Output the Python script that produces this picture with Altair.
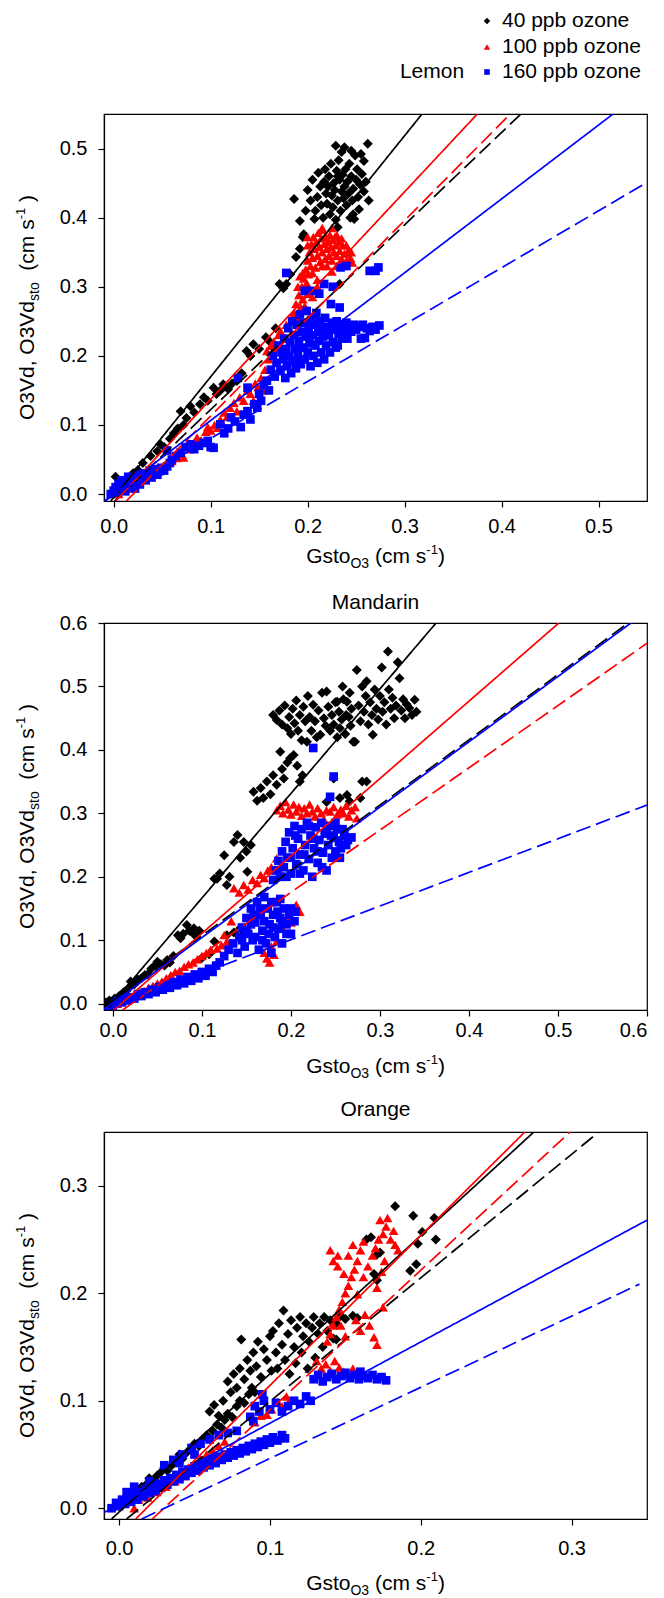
import altair as alt
import pandas as pd

FONT = "Liberation Sans"
SERIES = ["40 ppb ozone", "100 ppb ozone", "160 ppb ozone"]
COLORS = ["#000000", "#ff0000", "#0000ff"]
SHAPES = ["diamond", "triangle-up", "square"]
SIZES = [100, 95, 75]

# ---------------- Lemon ----------------
lemon_40 = [(0.002,0.025),(0.005,0.012),(0.010,0.018),(0.015,0.022),(0.020,0.030),(0.025,0.035),
 (0.030,0.045),(0.038,0.055),(0.045,0.062),(0.048,0.072),(0.052,0.068),(0.058,0.080),(0.062,0.088),
 (0.066,0.095),(0.069,0.120),(0.072,0.100),(0.075,0.110),(0.079,0.127),(0.083,0.118),(0.089,0.130),
 (0.093,0.140),(0.097,0.135),(0.103,0.154),(0.106,0.145),(0.110,0.150),(0.113,0.159),(0.118,0.152),
 (0.122,0.160),(0.127,0.164),(0.132,0.175),(0.137,0.207),(0.141,0.200),(0.144,0.217),(0.150,0.210),
 (0.157,0.227),(0.160,0.222),(0.164,0.212),(0.167,0.240),(0.171,0.304),(0.175,0.298),(0.178,0.304),
 (0.182,0.318),(0.188,0.343),(0.192,0.355),(0.195,0.372),(0.204,0.255),(0.233,0.304),
 (0.186,0.427),(0.192,0.395),(0.196,0.376),(0.198,0.410),(0.200,0.440),(0.203,0.425),(0.205,0.455),
 (0.207,0.398),(0.208,0.410),(0.210,0.430),(0.211,0.465),(0.213,0.445),(0.214,0.418),(0.216,0.400),
 (0.217,0.452),(0.218,0.470),(0.219,0.435),(0.220,0.420),(0.221,0.445),(0.222,0.460),(0.223,0.405),
 (0.224,0.478),(0.225,0.432),(0.226,0.415),(0.227,0.450),(0.228,0.440),(0.229,0.504),(0.230,0.468),
 (0.231,0.386),(0.231,0.425),(0.232,0.483),(0.233,0.455),(0.234,0.410),(0.235,0.438),(0.236,0.462),
 (0.237,0.428),(0.238,0.502),(0.238,0.445),(0.239,0.470),(0.240,0.418),(0.241,0.452),(0.242,0.435),
 (0.243,0.478),(0.244,0.400),(0.245,0.460),(0.246,0.425),(0.247,0.442),(0.248,0.398),(0.249,0.490),
 (0.250,0.455),(0.251,0.470),(0.252,0.430),(0.253,0.412),(0.254,0.448),(0.255,0.492),(0.256,0.463),
 (0.258,0.438),(0.260,0.452),(0.262,0.507),(0.263,0.425),(0.258,0.482),(0.245,0.497),(0.235,0.495),
 (0.231,0.460),(0.247,0.405),(0.229,0.397)]

lemon_100 = [(0.005,0.000),(0.010,0.005),(0.015,0.008),(0.020,0.012),(0.025,0.018),(0.030,0.022),
 (0.035,0.026),(0.040,0.030),(0.045,0.034),(0.050,0.038),(0.055,0.042),(0.060,0.048),(0.065,0.052),
 (0.070,0.058),(0.072,0.053),(0.078,0.065),(0.083,0.075),(0.086,0.082),(0.090,0.078),(0.095,0.090),
 (0.097,0.097),(0.100,0.092),(0.104,0.100),(0.107,0.096),(0.110,0.108),(0.114,0.118),(0.117,0.112),
 (0.120,0.125),(0.124,0.132),(0.127,0.120),(0.130,0.140),(0.134,0.135),(0.138,0.150),(0.141,0.145),
 (0.144,0.135),(0.146,0.160),(0.149,0.155),(0.152,0.168),(0.154,0.150),(0.156,0.180),(0.158,0.207),
 (0.160,0.195),(0.162,0.215),(0.165,0.221),(0.168,0.212),(0.170,0.230),(0.172,0.236),(0.175,0.225),
 (0.178,0.245),(0.183,0.250),(0.186,0.262),(0.188,0.275),(0.190,0.255),(0.191,0.288),(0.193,0.270),
 (0.194,0.300),(0.195,0.282),(0.196,0.312),(0.197,0.295),(0.198,0.325),(0.199,0.305),(0.200,0.338),
 (0.201,0.318),(0.202,0.350),(0.203,0.330),(0.204,0.362),(0.205,0.342),(0.206,0.372),(0.207,0.355),
 (0.208,0.328),(0.209,0.365),(0.210,0.345),(0.211,0.378),(0.212,0.358),(0.213,0.336),(0.214,0.370),
 (0.215,0.350),(0.216,0.382),(0.217,0.362),(0.218,0.340),(0.219,0.372),(0.220,0.355),(0.221,0.365),
 (0.222,0.345),(0.223,0.375),(0.224,0.358),(0.225,0.338),(0.226,0.368),(0.227,0.350),(0.228,0.372),
 (0.229,0.360),(0.230,0.345),(0.232,0.365),(0.233,0.352),(0.235,0.340),(0.236,0.360),(0.238,0.348),
 (0.240,0.338),(0.242,0.352),(0.244,0.342),(0.246,0.335),
 (0.195,0.320),(0.200,0.360),(0.205,0.320),(0.210,0.310),(0.215,0.330),(0.220,0.330),(0.225,0.322),
 (0.230,0.330),(0.235,0.370),(0.240,0.360),(0.245,0.350),(0.190,0.300),(0.200,0.290),(0.205,0.285),
 (0.210,0.300),(0.200,0.372),(0.215,0.385),(0.225,0.385),(0.230,0.375),(0.192,0.315),(0.197,0.272)]

lemon_160 = [(-0.003,0.000),(0.000,0.005),(0.002,0.010),(0.004,0.002),(0.005,0.015),(0.007,0.008),
 (0.008,0.020),(0.010,0.012),(0.012,0.004),(0.013,0.018),(0.015,0.025),(0.016,0.010),(0.018,0.015),
 (0.020,0.022),(0.022,0.008),(0.024,0.018),(0.025,0.028),(0.027,0.014),(0.029,0.022),(0.031,0.030),
 (0.033,0.020),(0.035,0.026),(0.037,0.034),(0.039,0.024),(0.041,0.030),(0.043,0.036),(0.045,0.028),
 (0.047,0.033),(0.049,0.038),(0.052,0.034),(0.055,0.040),(0.058,0.045),(0.055,0.063),(0.060,0.050),
 (0.064,0.055),(0.069,0.060),(0.074,0.068),(0.079,0.072),(0.083,0.065),(0.088,0.070),(0.093,0.074),
 (0.097,0.077),(0.100,0.068),(0.103,0.067),
 (0.110,0.101),(0.114,0.088),(0.118,0.095),(0.121,0.111),(0.125,0.105),(0.128,0.168),(0.131,0.097),
 (0.134,0.115),(0.138,0.120),(0.138,0.154),(0.141,0.108),(0.145,0.130),(0.148,0.125),(0.150,0.145),
 (0.152,0.135),(0.155,0.158),(0.158,0.164),(0.160,0.150),
 (0.162,0.180),(0.164,0.200),(0.166,0.170),(0.168,0.190),(0.170,0.215),(0.172,0.178),(0.173,0.205),
 (0.175,0.195),(0.176,0.225),(0.177,0.168),(0.178,0.210),(0.179,0.185),(0.180,0.240),(0.181,0.200),
 (0.182,0.220),(0.183,0.175),(0.184,0.250),(0.185,0.192),(0.186,0.230),(0.187,0.210),(0.188,0.182),
 (0.189,0.245),(0.190,0.200),(0.191,0.222),(0.192,0.260),(0.193,0.188),(0.194,0.235),(0.195,0.212),
 (0.196,0.248),(0.197,0.195),(0.198,0.228),(0.199,0.265),(0.200,0.205),(0.201,0.240),(0.202,0.218),
 (0.203,0.185),(0.204,0.252),(0.205,0.230),(0.206,0.200),(0.207,0.245),(0.208,0.215),(0.209,0.262),
 (0.210,0.190),(0.211,0.235),(0.212,0.222),(0.213,0.250),(0.214,0.205),(0.215,0.240),(0.216,0.228),
 (0.217,0.195),(0.218,0.255),(0.219,0.215),(0.220,0.242),(0.222,0.230),(0.223,0.205),(0.224,0.275),
 (0.225,0.248),(0.226,0.220),(0.228,0.238),(0.229,0.212),(0.230,0.250),(0.231,0.215),(0.232,0.232),
 (0.233,0.270),(0.234,0.245),(0.235,0.225),(0.236,0.240),(0.238,0.232),(0.240,0.248),(0.241,0.225),
 (0.243,0.240),(0.245,0.235),(0.248,0.245),(0.250,0.238),(0.253,0.242),(0.255,0.225),(0.257,0.245),
 (0.259,0.226),(0.261,0.240),(0.264,0.236),(0.267,0.242),(0.270,0.238),(0.274,0.244),
 (0.178,0.320),(0.197,0.294),(0.204,0.294),(0.217,0.304),(0.234,0.328),(0.240,0.330),(0.264,0.323),
 (0.270,0.323),(0.273,0.328),(0.212,0.290),(0.226,0.300)]

# line end points: (series, kind, x0, y0, x1, y1)
lemon_lines = [("40 ppb ozone","solid",-0.003,-0.010,0.318,0.55),
 ("40 ppb ozone","dashed",0.001,-0.010,0.420,0.55),
 ("100 ppb ozone","solid",0.002,-0.010,0.375,0.55),
 ("100 ppb ozone","dashed",0.013,-0.010,0.409,0.55),
 ("160 ppb ozone","solid",-0.009,-0.010,0.515,0.55),
 ("160 ppb ozone","dashed",-0.010,-0.010,0.55,0.451)]

# ---------------- Mandarin ----------------
mandarin_40 = [(-0.008,0.002),(-0.004,0.005),(0.000,0.000),(0.002,0.008),(0.005,0.004),(0.007,0.012),
 (0.010,0.010),(0.012,0.018),(0.015,0.020),(0.018,0.025),(0.020,0.035),(0.024,0.030),(0.028,0.038),
 (0.032,0.040),(0.036,0.045),(0.039,0.046),(0.043,0.055),(0.047,0.060),(0.050,0.066),(0.054,0.062),
 (0.058,0.060),(0.061,0.069),(0.064,0.065),(0.068,0.075),(0.073,0.108),(0.076,0.103),(0.079,0.110),
 (0.083,0.124),(0.086,0.115),(0.089,0.112),(0.091,0.119),(0.094,0.105),(0.097,0.115),
 (0.100,0.072),(0.108,0.078),(0.114,0.098),(0.128,0.108),(0.136,0.112),(0.143,0.119),(0.147,0.110),
 (0.114,0.197),(0.117,0.197),(0.120,0.205),(0.125,0.234),(0.128,0.187),(0.131,0.200),(0.136,0.255),
 (0.140,0.266),(0.143,0.230),(0.147,0.255),(0.151,0.208),(0.155,0.250),(0.150,0.240),(0.158,0.334),
 (0.162,0.320),(0.166,0.340),(0.169,0.324),(0.173,0.350),(0.177,0.330),(0.180,0.360),(0.184,0.345),
 (0.188,0.397),(0.190,0.370),(0.192,0.355),(0.196,0.380),(0.199,0.387),(0.203,0.392),(0.207,0.375),
 (0.210,0.350),(0.213,0.360),
 (0.180,0.455),(0.184,0.447),(0.187,0.462),(0.190,0.440),(0.193,0.470),(0.196,0.434),(0.198,0.452),
 (0.200,0.425),(0.202,0.465),(0.204,0.442),(0.206,0.478),(0.208,0.430),(0.210,0.455),(0.212,0.415),
 (0.214,0.468),(0.216,0.445),(0.218,0.413),(0.219,0.485),(0.221,0.452),(0.223,0.430),(0.225,0.471),
 (0.227,0.445),(0.229,0.420),(0.231,0.462),(0.233,0.424),(0.235,0.490),(0.237,0.450),(0.239,0.438),
 (0.240,0.492),(0.242,0.468),(0.244,0.430),(0.246,0.455),(0.248,0.440),(0.250,0.475),(0.252,0.420),
 (0.254,0.460),(0.255,0.434),(0.257,0.448),(0.259,0.480),(0.261,0.425),(0.263,0.476),(0.265,0.452),
 (0.267,0.438),(0.270,0.413),(0.268,0.465),
 (0.252,0.476),(0.258,0.500),(0.262,0.455),(0.266,0.490),(0.272,0.413),(0.274,0.526),(0.276,0.470),
 (0.278,0.445),(0.280,0.500),(0.282,0.460),(0.284,0.485),(0.285,0.508),(0.287,0.440),(0.289,0.475),
 (0.291,0.455),(0.292,0.424),(0.294,0.495),(0.296,0.465),(0.298,0.448),(0.300,0.485),(0.302,0.530),
 (0.303,0.460),(0.305,0.475),(0.307,0.440),(0.309,0.555),(0.310,0.495),(0.312,0.465),(0.314,0.482),
 (0.316,0.450),(0.318,0.470),(0.320,0.538),(0.322,0.513),(0.324,0.462),(0.326,0.480),(0.328,0.450),
 (0.330,0.472),(0.333,0.466),(0.336,0.455),(0.339,0.479),(0.341,0.460),
 (0.240,0.318),(0.248,0.355),(0.255,0.324),(0.263,0.329),(0.266,0.319),(0.278,0.324),(0.280,0.350),
 (0.285,0.350)]

mandarin_100 = [(0.000,-0.005),(0.005,0.000),(0.010,0.004),(0.015,0.008),(0.020,0.010),(0.025,0.012),
 (0.030,0.018),(0.035,0.020),(0.040,0.025),(0.045,0.028),(0.050,0.032),(0.055,0.035),(0.060,0.040),
 (0.065,0.045),(0.070,0.050),(0.075,0.052),(0.080,0.058),(0.085,0.062),(0.090,0.065),(0.095,0.070),
 (0.100,0.075),(0.105,0.080),(0.110,0.085),(0.117,0.087),(0.122,0.092),(0.125,0.108),(0.128,0.098),
 (0.133,0.130),(0.136,0.182),(0.142,0.175),(0.147,0.187),(0.152,0.180),(0.157,0.195),(0.162,0.190),
 (0.166,0.203),(0.170,0.198),(0.174,0.210),(0.178,0.215),(0.184,0.229),
 (0.170,0.080),(0.173,0.071),(0.176,0.065),(0.181,0.077),(0.184,0.098),(0.178,0.090),
 (0.190,0.120),(0.196,0.135),(0.200,0.128),(0.206,0.156),(0.210,0.145),
 (0.184,0.305),(0.188,0.312),(0.191,0.300),(0.194,0.318),(0.197,0.306),(0.200,0.298),(0.203,0.314),
 (0.206,0.303),(0.209,0.310),(0.212,0.296),(0.215,0.308),(0.218,0.300),(0.221,0.314),(0.224,0.303),
 (0.227,0.295),(0.230,0.308),(0.234,0.300),(0.237,0.290),(0.240,0.305),(0.244,0.303),(0.248,0.310),
 (0.252,0.298),(0.256,0.306),(0.259,0.300),(0.262,0.312),(0.265,0.295),(0.268,0.305),(0.272,0.310),
 (0.274,0.292)]

mandarin_160 = [(0.000,-0.005),(0.003,0.000),(0.006,0.004),(0.010,0.002),(0.013,0.008),(0.016,0.005),
 (0.020,0.010),(0.024,0.008),(0.028,0.015),(0.032,0.012),(0.036,0.018),(0.040,0.015),(0.044,0.022),
 (0.048,0.018),(0.052,0.026),(0.056,0.022),(0.060,0.030),(0.064,0.025),(0.068,0.034),(0.072,0.029),
 (0.076,0.038),(0.080,0.032),(0.084,0.042),(0.088,0.036),(0.092,0.046),(0.096,0.040),(0.100,0.050),
 (0.104,0.044),(0.108,0.055),(0.112,0.050),(0.116,0.060),(0.120,0.065),
 (0.125,0.075),(0.130,0.085),(0.135,0.095),(0.140,0.080),(0.142,0.105),(0.145,0.120),(0.148,0.090),
 (0.150,0.135),(0.152,0.110),(0.155,0.150),(0.157,0.100),(0.160,0.128),(0.162,0.160),(0.164,0.085),
 (0.166,0.140),(0.168,0.115),(0.170,0.168),(0.172,0.095),(0.174,0.150),(0.176,0.125),(0.178,0.080),
 (0.180,0.140),(0.182,0.105),(0.184,0.160),(0.186,0.118),(0.188,0.135),(0.190,0.095),(0.192,0.150),
 (0.195,0.125),(0.198,0.140),(0.200,0.110),(0.204,0.130),
 (0.145,0.100),(0.150,0.115),(0.155,0.125),(0.160,0.105),(0.165,0.150),(0.170,0.130),(0.175,0.110),
 (0.180,0.120),(0.185,0.145),(0.190,0.130),(0.195,0.110),(0.158,0.140),(0.168,0.100),(0.178,0.160),
 (0.188,0.165),(0.200,0.150),(0.205,0.145),
 (0.180,0.195),(0.183,0.210),(0.186,0.225),(0.188,0.200),(0.190,0.240),(0.192,0.215),(0.194,0.255),
 (0.196,0.230),(0.198,0.270),(0.200,0.205),(0.202,0.245),(0.204,0.280),(0.206,0.220),(0.208,0.260),
 (0.210,0.235),(0.212,0.275),(0.214,0.210),(0.216,0.250),(0.218,0.285),(0.220,0.228),(0.222,0.265),
 (0.224,0.200),(0.226,0.245),(0.228,0.278),(0.230,0.222),(0.232,0.258),(0.234,0.285),(0.236,0.238),
 (0.238,0.268),(0.240,0.210),(0.242,0.250),(0.244,0.280),(0.246,0.230),(0.248,0.262),(0.250,0.240),
 (0.252,0.275),(0.254,0.255),(0.256,0.245),(0.260,0.265),(0.264,0.258),(0.268,0.262),
 (0.195,0.200),(0.205,0.265),(0.215,0.235),(0.225,0.260),(0.235,0.215),(0.245,0.265),(0.255,0.230),
 (0.262,0.250),(0.200,0.230),(0.210,0.205),(0.230,0.240),(0.240,0.275),(0.220,0.280),(0.250,0.285),
 (0.258,0.275),(0.185,0.210),
 (0.244,0.326),(0.248,0.358),(0.225,0.403)]

mandarin_lines = [("40 ppb ozone","solid",-0.007,-0.010,0.363,0.60),
 ("40 ppb ozone","dashed",-0.010,-0.006,0.579,0.60),
 ("100 ppb ozone","solid",0.001,-0.010,0.501,0.60),
 ("100 ppb ozone","dashed",0.011,-0.010,0.60,0.568),
 ("160 ppb ozone","solid",-0.010,-0.009,0.582,0.60),
 ("160 ppb ozone","dashed",-0.009,-0.010,0.60,0.313)]

# ---------------- Orange ----------------
orange_40 = [(0.000,0.002),(0.003,0.006),(0.005,0.010),(0.008,0.012),(0.010,0.015),(0.012,0.018),
 (0.015,0.020),(0.018,0.022),(0.020,0.028),(0.022,0.025),(0.025,0.030),(0.028,0.034),(0.030,0.038),
 (0.032,0.035),(0.035,0.040),(0.038,0.044),(0.040,0.050),(0.042,0.046),(0.045,0.052),(0.048,0.055),
 (0.050,0.060),(0.053,0.058),(0.055,0.064),(0.058,0.068),(0.060,0.065),(0.062,0.072),(0.065,0.078),
 (0.068,0.075),(0.070,0.082),(0.072,0.088),(0.075,0.085),(0.078,0.095),(0.080,0.100),(0.083,0.098),
 (0.086,0.106),(0.088,0.112),(0.090,0.108),
 (0.060,0.090),(0.063,0.096),(0.066,0.086),(0.069,0.100),(0.072,0.118),(0.074,0.108),(0.076,0.125),
 (0.078,0.112),(0.080,0.130),(0.081,0.157),(0.083,0.120),(0.085,0.138),(0.087,0.128),(0.089,0.145),
 (0.091,0.132),(0.092,0.155),(0.094,0.122),(0.096,0.148),(0.098,0.138),(0.100,0.160),(0.101,0.128),
 (0.102,0.165),(0.104,0.145),(0.105,0.130),(0.106,0.172),(0.108,0.152),(0.109,0.184),(0.110,0.138),
 (0.112,0.162),(0.113,0.125),(0.114,0.175),(0.116,0.150),(0.117,0.135),(0.118,0.168),(0.120,0.178),
 (0.121,0.145),(0.122,0.160),(0.124,0.172),(0.125,0.130),(0.126,0.155),(0.128,0.168),(0.129,0.178),
 (0.130,0.140),(0.132,0.162),(0.133,0.172),(0.135,0.150),(0.136,0.178),(0.138,0.165),(0.140,0.175),
 (0.142,0.158),(0.144,0.172),(0.147,0.179),(0.150,0.176),(0.155,0.179),(0.158,0.177),
 (0.164,0.250),(0.167,0.252),(0.171,0.236),(0.173,0.238),(0.169,0.218),(0.171,0.212),(0.183,0.281),
 (0.195,0.272),(0.209,0.270),(0.201,0.257),(0.210,0.250),(0.198,0.246),(0.193,0.221),(0.197,0.227),
 (0.144,0.157)]

orange_100 = [(0.010,0.000),(0.013,0.008),(0.016,0.012),(0.019,0.010),(0.022,0.018),(0.025,0.015),
 (0.028,0.022),(0.031,0.020),(0.034,0.028),(0.037,0.025),(0.040,0.032),(0.043,0.030),(0.046,0.038),
 (0.050,0.042),(0.054,0.046),(0.058,0.050),(0.062,0.054),(0.066,0.058),(0.070,0.062),
 (0.090,0.080),(0.094,0.086),(0.098,0.087),(0.101,0.092),(0.105,0.099),(0.108,0.095),(0.111,0.104),
 (0.113,0.100),
 (0.131,0.137),(0.134,0.130),(0.137,0.134),(0.140,0.128),(0.143,0.137),(0.146,0.131),(0.149,0.127),
 (0.152,0.124),(0.155,0.130),(0.158,0.126),
 (0.138,0.155),(0.140,0.162),(0.142,0.170),(0.144,0.178),(0.146,0.185),(0.148,0.192),(0.150,0.200),
 (0.152,0.207),(0.154,0.215),(0.156,0.222),(0.158,0.230),(0.160,0.240),(0.162,0.248),(0.142,0.230),
 (0.145,0.225),(0.149,0.218),(0.152,0.235),(0.155,0.245),(0.158,0.199),(0.162,0.215),(0.165,0.225),
 (0.168,0.235),(0.170,0.242),(0.172,0.250),(0.173,0.268),(0.175,0.255),(0.177,0.262),(0.178,0.270),
 (0.180,0.250),(0.182,0.258),(0.183,0.245),(0.185,0.240),(0.176,0.230),(0.174,0.220),(0.171,0.205),
 (0.175,0.187),(0.169,0.159),(0.171,0.152),(0.166,0.170),(0.163,0.180),(0.160,0.165),(0.157,0.175),
 (0.150,0.160),(0.147,0.170),(0.145,0.235),(0.140,0.240)]

orange_160 = [(-0.005,0.000),(-0.002,0.005),(0.000,0.002),(0.002,0.008),(0.004,0.004),(0.006,0.010),
 (0.008,0.006),(0.010,0.012),(0.012,0.008),(0.014,0.015),(0.016,0.011),(0.018,0.018),(0.020,0.014),
 (0.022,0.020),(0.024,0.016),(0.026,0.023),(0.028,0.019),(0.030,0.026),(0.032,0.022),(0.034,0.028),
 (0.036,0.025),(0.038,0.031),(0.040,0.027),(0.042,0.034),(0.044,0.030),(0.046,0.036),(0.048,0.033),
 (0.050,0.039),(0.052,0.035),(0.054,0.041),(0.056,0.038),(0.058,0.043),(0.060,0.040),(0.062,0.046),
 (0.064,0.042),(0.066,0.048),(0.068,0.045),(0.070,0.050),(0.072,0.047),(0.074,0.052),(0.076,0.049),
 (0.078,0.054),(0.080,0.051),(0.082,0.056),(0.084,0.053),(0.086,0.058),(0.088,0.055),(0.090,0.060),
 (0.092,0.057),(0.094,0.062),(0.096,0.059),(0.098,0.064),(0.100,0.061),(0.102,0.066),(0.105,0.063),
 (0.108,0.068),(0.110,0.065),
 (0.030,0.040),(0.036,0.045),(0.042,0.050),(0.048,0.056),(0.054,0.060),(0.060,0.064),(0.066,0.068),
 (0.072,0.070),(0.078,0.072),(0.040,0.042),(0.050,0.050),(0.020,0.025),(0.010,0.020),(0.005,0.015),
 (0.087,0.085),(0.090,0.095),(0.093,0.090),(0.096,0.100),(0.100,0.092),(0.104,0.098),(0.108,0.090),
 (0.112,0.095),(0.116,0.100),(0.120,0.097),(0.124,0.104),(0.127,0.100),(0.095,0.106),(0.089,0.081),
 (0.129,0.120),(0.132,0.124),(0.135,0.118),(0.138,0.122),(0.141,0.125),(0.144,0.120),(0.147,0.123),
 (0.150,0.126),(0.153,0.121),(0.156,0.124),(0.159,0.120),(0.162,0.123),(0.165,0.121),(0.168,0.124),
 (0.171,0.120),(0.174,0.122),(0.177,0.119),(0.160,0.127)]

orange_lines = [("40 ppb ozone","solid",-0.005,-0.010,0.275,0.35),
 ("40 ppb ozone","dashed",0.005,-0.010,0.318,0.35),
 ("100 ppb ozone","solid",0.011,-0.010,0.269,0.35),
 ("100 ppb ozone","dashed",0.022,-0.010,0.299,0.35),
 ("160 ppb ozone","solid",-0.010,-0.004,0.35,0.268),
 ("160 ppb ozone","dashed",0.015,-0.010,0.345,0.2085)]

lemon_ticks = [0.0, 0.1, 0.2, 0.3, 0.4, 0.5]
mandarin_ticks = [0.0, 0.1, 0.2, 0.3, 0.4, 0.5, 0.6]
orange_ticks = [0.0, 0.1, 0.2, 0.3]

W, H = 543, 387

# Arial / Liberation Sans advance widths (per 1000 em)
CW = {' ':278,'(':333,')':333,',':278,'-':333,'.':278,'G':778,'O':778,'V':667,
      'a':556,'b':556,'c':500,'d':556,'e':556,'m':833,'n':556,'o':556,'p':556,
      's':500,'t':278,'z':500}
for d in "0123456789":
    CW[d] = 556

def tw(s, fs):
    return sum(CW.get(c, 556) for c in s) * fs / 1000.0

DUMMY = pd.DataFrame({"k": [0]})

def text_run(segs, x0, y0, vertical=False):
    layers = []
    total = sum(tw(t, fs) for t, fs, _ in segs)
    pos = -total / 2.0
    for t, fs, shift in segs:
        lead = len(t) - len(t.lstrip(" "))
        off = pos + tw(" " * lead, fs)
        if vertical:
            x, y = x0, y0 - off
        else:
            x, y = x0 + off, y0
        kw = dict(align="left", baseline="alphabetic", font=FONT, fontSize=fs,
                  color="black", text=t.strip())
        if shift:
            kw["dy"] = shift
        if vertical:
            kw["angle"] = 270
        layers.append(alt.Chart(DUMMY).mark_text(**kw).encode(
            x=alt.value(x), y=alt.value(y)))
        pos += tw(t, fs)
    return layers

XSEGS = [("Gsto", 21, 0), ("O3", 14, 5), (" (cm s", 21, 0), ("-1", 13, -9), (")", 21, 0)]
YSEGS = [("O3Vd, O3Vd", 21, 0), ("sto", 14, 5), ("  (cm s", 21, 0), ("-1", 13, -9), (" )", 21, 0)]

def panel(name, groups, lines, dmax, ticks, title_x, title_y, xtitle_y, xlab_pad, legend=False):
    xs = alt.Scale(domain=[-0.01, dmax], nice=False, zero=False)
    ax_x = alt.Axis(values=ticks, format=".1f", title=None, labelPadding=xlab_pad,
                    tickSize=6, grid=False)
    ax_y = alt.Axis(values=ticks, format=".1f", title=None, labelPadding=11,
                    tickSize=6, grid=False)
    layers = []
    for s, col, shp, sz, pts in zip(SERIES, COLORS, SHAPES, SIZES, groups):
        df = pd.DataFrame(pts, columns=["x", "y"])
        df["series"] = s
        layers.append(alt.Chart(df).mark_point(filled=True, opacity=1, shape=shp, size=sz,
                                               color=col, clip=True).encode(
            x=alt.X("x:Q", scale=xs, axis=ax_x),
            y=alt.Y("y:Q", scale=xs, axis=ax_y)))
    rows = []
    for i, (s, kind, x0, y0, x1, y1) in enumerate(lines):
        rows.append({"id": i, "series": s, "kind": kind, "x": x0, "y": y0})
        rows.append({"id": i, "series": s, "kind": kind, "x": x1, "y": y1})
    ldf = pd.DataFrame(rows)
    layers.append(alt.Chart(ldf).mark_line(clip=True, strokeWidth=1.7).encode(
        x=alt.X("x:Q", scale=xs, axis=ax_x),
        y=alt.Y("y:Q", scale=xs, axis=ax_y),
        color=alt.Color("series:N", scale=alt.Scale(domain=SERIES, range=COLORS), legend=None),
        strokeDash=alt.StrokeDash("kind:N", scale=alt.Scale(domain=["solid", "dashed"],
                                  range=[[1, 0], [15, 6]]), legend=None),
        detail="id:N"))
    # panel title
    layers.append(alt.Chart(DUMMY).mark_text(align="center", baseline="middle", font=FONT,
                  fontSize=21, color="black", text=name).encode(
        x=alt.value(title_x), y=alt.value(title_y)))
    layers += text_run(XSEGS, W / 2, H + xtitle_y)
    layers += text_run(YSEGS, -70, H / 2, vertical=True)
    if legend:
        rows_y = [-93, -67, -42]
        for s, col, shp, sz, ry in zip(SERIES, COLORS, SHAPES, SIZES, rows_y):
            layers.append(alt.Chart(DUMMY).mark_point(filled=True, opacity=1, shape=shp,
                          size=sz * 0.42, color=col).encode(x=alt.value(383), y=alt.value(ry)))
            layers.append(alt.Chart(DUMMY).mark_text(align="left", baseline="middle", font=FONT,
                          fontSize=21, color="black", text=s).encode(
                x=alt.value(398), y=alt.value(ry)))
    return alt.layer(*layers).properties(width=W, height=H)

lemon = panel("Lemon", [lemon_40, lemon_100, lemon_160], lemon_lines, 0.55, lemon_ticks,
              328, -42, 62, 9, legend=True)
mandarin = panel("Mandarin", [mandarin_40, mandarin_100, mandarin_160], mandarin_lines, 0.6,
                 mandarin_ticks, W / 2, -20, 63, 4)
orange = panel("Orange", [orange_40, orange_100, orange_160], orange_lines, 0.35, orange_ticks,
               W / 2, -22, 71, 13)

chart = alt.vconcat(lemon, mandarin, orange, spacing=122, bounds="flush").properties(
    padding={"left": 6, "top": 1, "right": 5, "bottom": 5}
).configure_view(stroke="black", strokeWidth=1.2).configure_axis(
    labelFont=FONT, labelFontSize=20, labelColor="black", tickColor="black",
    domainColor="black", domainWidth=1.2, tickWidth=1.2)

chart.save("out.html", embed_options={"renderer": "svg", "actions": False})
